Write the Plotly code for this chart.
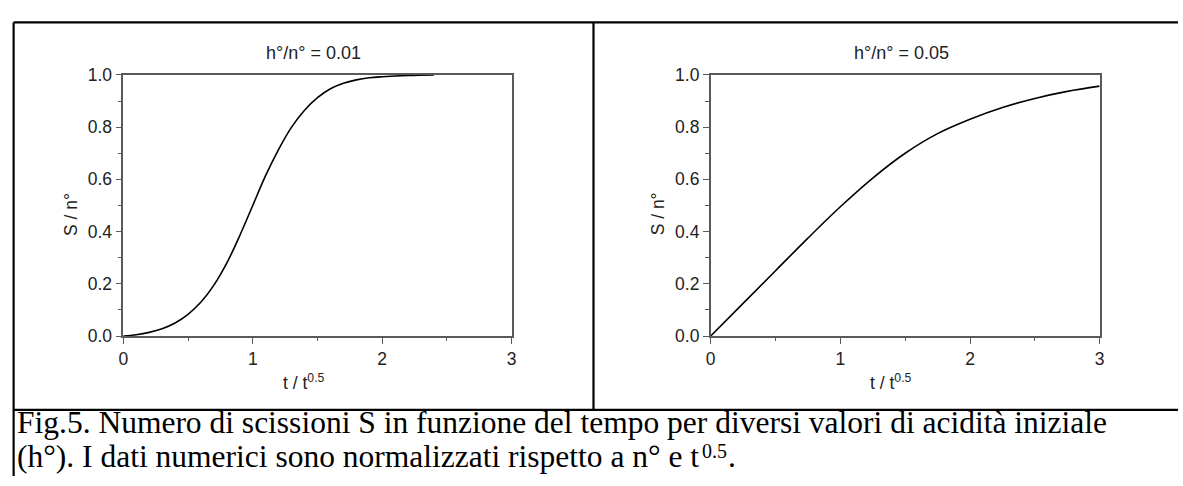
import plotly.graph_objects as go

# Normalised time t / t^0.5
t_low = [0, 0.1, 0.2, 0.3, 0.4, 0.5, 0.6, 0.7, 0.8, 0.9, 1.0, 1.1, 1.2, 1.3,
         1.4, 1.5, 1.6, 1.7, 1.8, 1.9, 2.0, 2.2, 2.4]
# Scissions S / n° for h°/n° = 0.01
s_low = [0, 0.005, 0.014, 0.028, 0.05, 0.083, 0.13, 0.195, 0.28, 0.385, 0.50,
         0.615, 0.715, 0.80, 0.865, 0.913, 0.947, 0.968, 0.981, 0.989, 0.993,
         0.998, 1.0]

t_high = [0, 0.25, 0.5, 0.75, 1.0, 1.25, 1.5, 1.75, 2.0, 2.25, 2.5, 2.75, 3.0]
# Scissions S / n° for h°/n° = 0.05
s_high = [0, 0.125, 0.25, 0.375, 0.495, 0.605, 0.70, 0.775, 0.83, 0.875, 0.91,
          0.937, 0.957]

panel_titles = ["h°/n° = 0.01", "h°/n° = 0.05"]
x_ticks = [0, 1, 2, 3]
y_ticks = [0.0, 0.2, 0.4, 0.6, 0.8, 1.0]
caption_line1 = ("Fig.5. Numero di scissioni S in funzione del tempo per diversi "
                 "valori di acidità iniziale")
caption_line2 = "(h°). I dati numerici sono normalizzati rispetto a n° e t"
caption_sup = "0.5"
caption_end = "."

W, H = 1183, 486


def px(x):
    return x / W


def py(y):
    return 1 - y / H


AX_COLOR = "#5a5a5a"
TICK_FONT = dict(family="Liberation Sans, Arial, sans-serif", size=17.5, color="#222")

fig = go.Figure()
fig.add_trace(go.Scatter(x=t_low, y=s_low, mode="lines",
                         line=dict(color="black", width=1.6, shape="spline"),
                         xaxis="x", yaxis="y", showlegend=False))
fig.add_trace(go.Scatter(x=t_high, y=s_high, mode="lines",
                         line=dict(color="black", width=1.6, shape="spline"),
                         xaxis="x2", yaxis="y2", showlegend=False))

plot_left = [119.3, 711.7]
plot_right = [511.0, 1104.0]
plot_top, plot_bottom = 67.7, 340.0


def xaxis_cfg(i):
    return dict(
        domain=[px(plot_left[i]), px(plot_right[i])],
        range=[0, 3], tickvals=x_ticks, ticktext=[str(v) for v in x_ticks],
        showline=True, mirror=True, linecolor=AX_COLOR, linewidth=1.5,
        ticks="outside", ticklen=6, tickwidth=1.2, tickcolor=AX_COLOR,
        minor=dict(dtick=0.5, ticks="outside", ticklen=3.5, tickwidth=1.2,
                   tickcolor=AX_COLOR, showgrid=False),
        showgrid=False, zeroline=False, tickfont=TICK_FONT,
        anchor="y" if i == 0 else "y2", fixedrange=True,
    )


def yaxis_cfg(i):
    return dict(
        domain=[py(plot_bottom), py(plot_top)],
        range=[0, 1], tickvals=y_ticks, ticktext=[f"{v:.1f}" for v in y_ticks],
        showline=True, mirror=True, linecolor=AX_COLOR, linewidth=1.5,
        ticks="outside", ticklen=6, tickwidth=1.2, tickcolor=AX_COLOR,
        minor=dict(dtick=0.1, ticks="outside", ticklen=3.5, tickwidth=1.2,
                   tickcolor=AX_COLOR, showgrid=False),
        showgrid=False, zeroline=False, tickfont=TICK_FONT,
        anchor="x" if i == 0 else "x2", fixedrange=True,
    )


annotations = []
label_font = dict(family="Liberation Sans, Arial, sans-serif", size=17.5, color="#222")
title_font = dict(family="Liberation Sans, Arial, sans-serif", size=18, color="#222")
for i in range(2):
    cx = (plot_left[i] + plot_right[i]) / 2
    annotations.append(dict(text=panel_titles[i], x=px(cx - 4), y=py(45),
                            xref="paper", yref="paper", showarrow=False,
                            xanchor="center", yanchor="middle", font=title_font))
    annotations.append(dict(text="S / n°", x=px(plot_left[i] - 53), y=py(213),
                            xref="paper", yref="paper", showarrow=False,
                            textangle=-90, xanchor="center", yanchor="middle",
                            font=label_font))
    annotations.append(dict(text="t / t<sup>0.5</sup>",
                            x=px(plot_left[i] + 182), y=py(402),
                            xref="paper", yref="paper", showarrow=False,
                            xanchor="center", yanchor="bottom", font=label_font))

# Caption in Times-metric serif; the exponent is set as its own small text
CAP_SIZE = 31.5
SUP_SIZE = 20
cap_font = dict(family="Liberation Serif, Times New Roman, serif", size=CAP_SIZE, color="black")
sup_font = dict(family="Liberation Serif, Times New Roman, serif", size=SUP_SIZE, color="black")

# Times advance widths (1/1000 em) for the glyphs of caption line 2
TIMES_W = {"(": 333, ")": 333, "h": 500, "°": 400, ".": 250, " ": 250, "I": 333,
           "d": 500, "a": 444, "t": 278, "i": 278, "n": 500, "u": 500, "m": 778,
           "e": 444, "r": 333, "c": 444, "s": 389, "o": 500, "l": 278, "z": 444,
           "p": 500, "0": 500, "5": 500}


def text_width(s, size):
    return sum(TIMES_W[c] for c in s) / 1000 * size


cap_x = 12.0
base1, base2 = 442.0, 477.0
descent = 0.216
common = dict(xref="paper", yref="paper", showarrow=False, xanchor="left",
              yanchor="bottom", borderpad=0, borderwidth=0)

annotations.append(dict(text=caption_line1, x=px(cap_x), y=py(base1 + descent * CAP_SIZE),
                        font=cap_font, **common))
annotations.append(dict(text=caption_line2, x=px(cap_x), y=py(base2 + descent * CAP_SIZE),
                        font=cap_font, **common))
x_sup = cap_x + text_width(caption_line2, CAP_SIZE) + 9
annotations.append(dict(text=caption_sup, x=px(x_sup), y=py(base2 - 10 + descent * SUP_SIZE),
                        font=sup_font, **common))
x_end = x_sup + text_width(caption_sup, SUP_SIZE) + 1
annotations.append(dict(text=caption_end, x=px(x_end), y=py(base2 + descent * CAP_SIZE),
                        font=cap_font, **common))

frame = dict(color="black", width=2.2)
shapes = [
    # outer frame: top edge, left edge
    dict(type="line", xref="paper", yref="paper", x0=px(8.7), x1=1, y0=py(13), y1=py(13), line=frame),
    dict(type="line", xref="paper", yref="paper", x0=px(8.7), x1=px(8.7), y0=py(13), y1=0, line=frame),
    # divider between the two panels
    dict(type="line", xref="paper", yref="paper", x0=px(593.5), x1=px(593.5), y0=py(13), y1=py(417), line=frame),
    # rule above the caption
    dict(type="line", xref="paper", yref="paper", x0=px(8.7), x1=1, y0=py(417), y1=py(417), line=frame),
]

fig.update_layout(
    width=W, height=H, margin=dict(l=0, r=0, t=0, b=0),
    paper_bgcolor="white", plot_bgcolor="white",
    xaxis=xaxis_cfg(0), yaxis=yaxis_cfg(0),
    xaxis2=xaxis_cfg(1), yaxis2=yaxis_cfg(1),
    annotations=annotations, shapes=shapes, showlegend=False,
)

fig.write_html("out.html", config={"displayModeBar": False})
